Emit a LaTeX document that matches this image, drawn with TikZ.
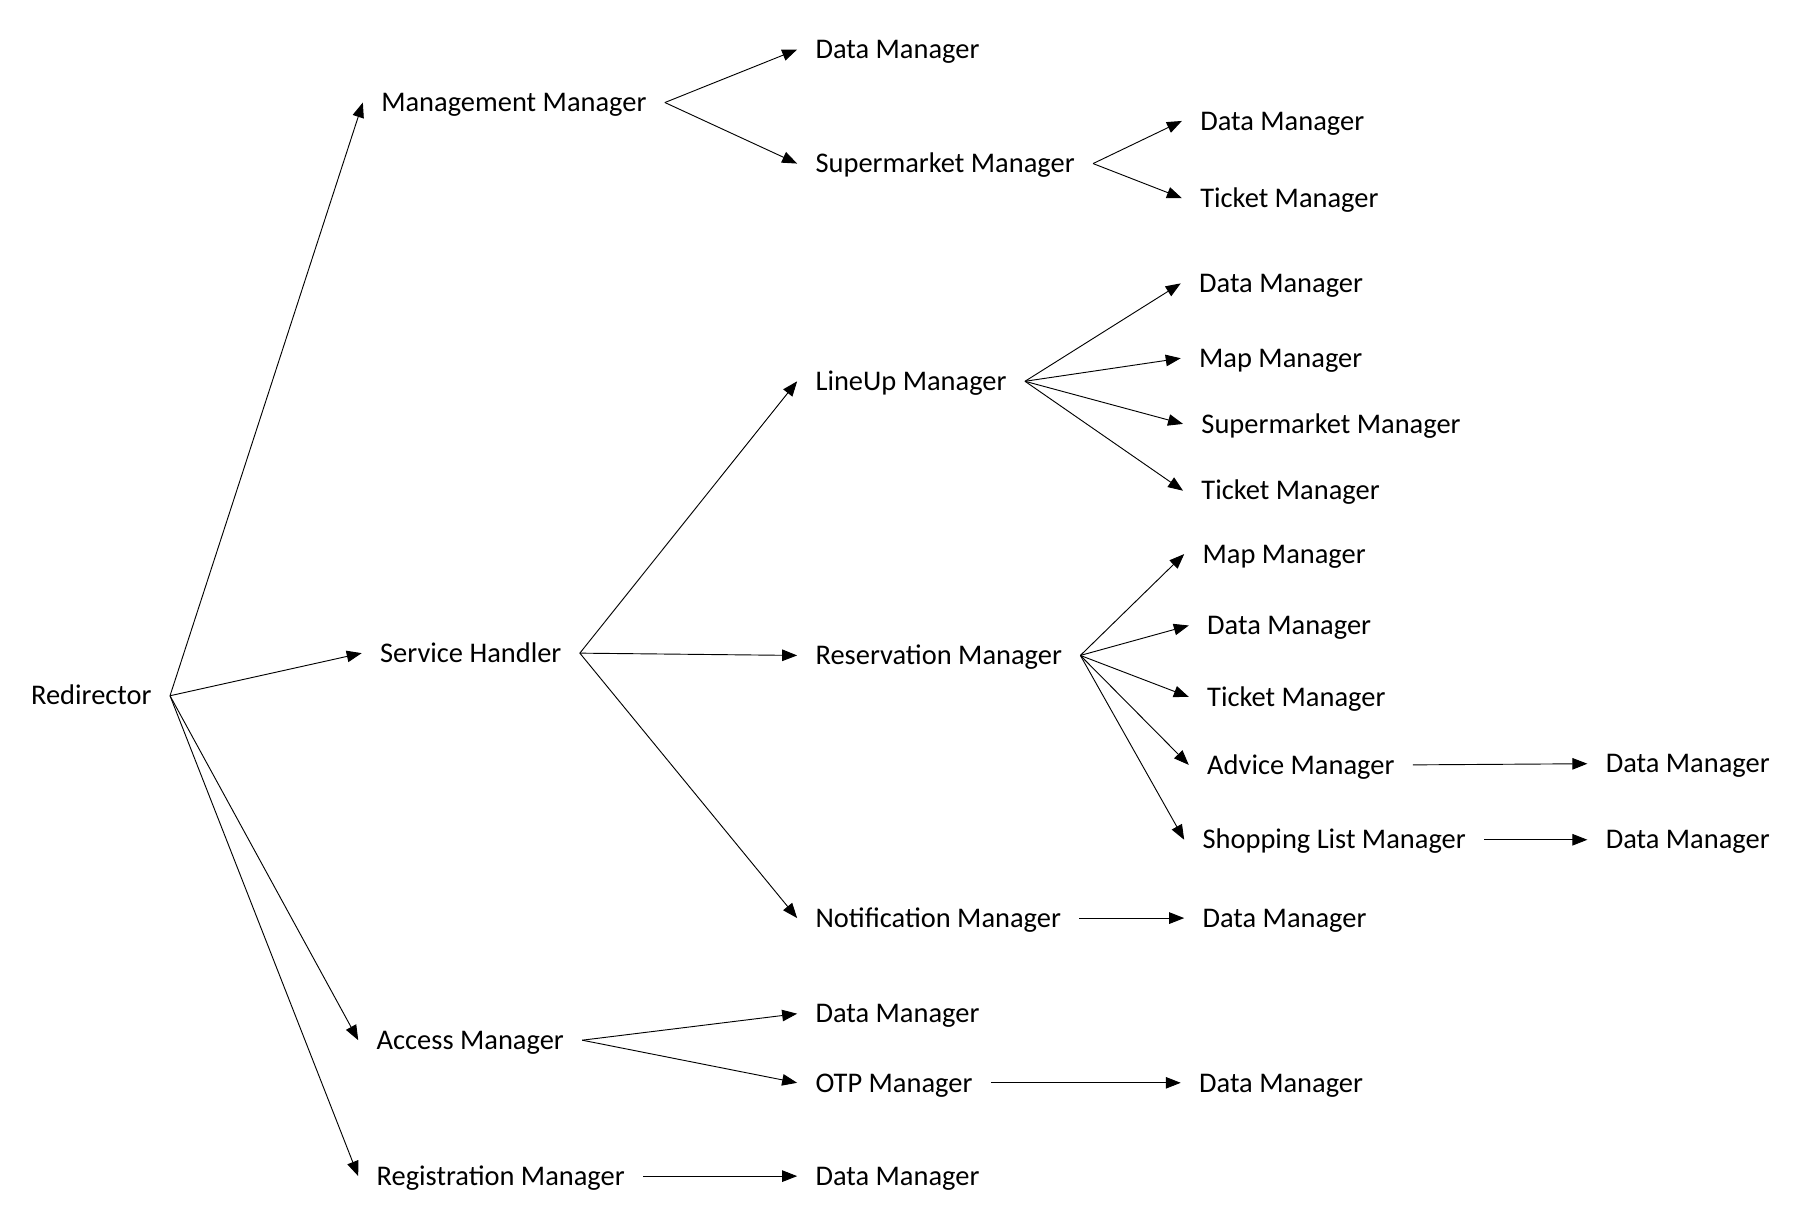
\documentclass[tikz,border=0pt]{standalone}
\usepackage{fontspec}
\setmainfont{Carlito}
\usetikzlibrary{arrows.meta}
\begin{document}
\begin{tikzpicture}[x=1pt,y=-1pt,
  lbl/.style={anchor=west,inner xsep=16pt,inner ysep=0pt,outer sep=0pt,
    text height=22pt,text depth=6pt,font=\fontsize{24.7pt}{30pt}\selectfont},
  arr/.style={-{Triangle[length=13pt,width=10pt]},line width=0.8pt}]
\useasboundingbox (0,0) rectangle (1560,1067);
% column 1
\node[lbl] (red) at (11,604) {Redirector};
% column 2
\node[lbl] (mm)  at (315,89)   {Management Manager};
\node[lbl] (sh)  at (314,567)  {Service Handler};
\node[lbl] (am)  at (311,903)  {Access Manager};
\node[lbl] (rm)  at (311,1021) {Registration Manager};
% column 3
\node[lbl] (dm1) at (692,43)   {Data Manager};
\node[lbl] (smm) at (692,142)  {Supermarket Manager};
\node[lbl] (lum) at (692,331)  {LineUp Manager};
\node[lbl] (resm) at (692,569) {Reservation Manager};
\node[lbl] (nm)  at (692,797)  {Notification Manager};
\node[lbl] (dm2) at (692,880)  {Data Manager};
\node[lbl] (otp) at (692,940)  {OTP Manager};
\node[lbl] (dm3) at (692,1021) {Data Manager};
% column 4
\node[lbl] (dm4) at (1026,105) {Data Manager};
\node[lbl] (tm1) at (1026,172) {Ticket Manager};
\node[lbl] (dm5) at (1025,246) {Data Manager};
\node[lbl] (mp1) at (1025,311) {Map Manager};
\node[lbl] (smm2) at (1027,368) {Supermarket Manager};
\node[lbl] (tm2) at (1027,426) {Ticket Manager};
\node[lbl] (mp2) at (1028,481) {Map Manager};
\node[lbl] (dm6) at (1032,543) {Data Manager};
\node[lbl] (tm3) at (1032,605) {Ticket Manager};
\node[lbl] (adv) at (1032,664) {Advice Manager};
\node[lbl] (slm) at (1028,729) {Shopping List Manager};
\node[lbl] (dm7) at (1028,797) {Data Manager};
\node[lbl] (dm8) at (1025,940) {Data Manager};
% column 5
\node[lbl] (dm9)  at (1378,663) {Data Manager};
\node[lbl] (dm10) at (1378,729) {Data Manager};
% connectors
\draw[arr] (red.east) -- (mm.west);
\draw[arr] (red.east) -- (sh.west);
\draw[arr] (red.east) -- (am.west);
\draw[arr] (red.east) -- (rm.west);
\draw[arr] (mm.east) -- (dm1.west);
\draw[arr] (mm.east) -- (smm.west);
\draw[arr] (smm.east) -- (dm4.west);
\draw[arr] (smm.east) -- (tm1.west);
\draw[arr] (sh.east) -- (lum.west);
\draw[arr] (sh.east) -- (resm.west);
\draw[arr] (sh.east) -- (nm.west);
\draw[arr] (lum.east) -- (dm5.west);
\draw[arr] (lum.east) -- (mp1.west);
\draw[arr] (lum.east) -- (smm2.west);
\draw[arr] (lum.east) -- (tm2.west);
\draw[arr] (resm.east) -- (mp2.west);
\draw[arr] (resm.east) -- (dm6.west);
\draw[arr] (resm.east) -- (tm3.west);
\draw[arr] (resm.east) -- (adv.west);
\draw[arr] (resm.east) -- (slm.west);
\draw[arr] (adv.east) -- (dm9.west);
\draw[arr] (slm.east) -- (dm10.west);
\draw[arr] (nm.east) -- (dm7.west);
\draw[arr] (am.east) -- (dm2.west);
\draw[arr] (am.east) -- (otp.west);
\draw[arr] (otp.east) -- (dm8.west);
\draw[arr] (rm.east) -- (dm3.west);
\end{tikzpicture}
\end{document}
